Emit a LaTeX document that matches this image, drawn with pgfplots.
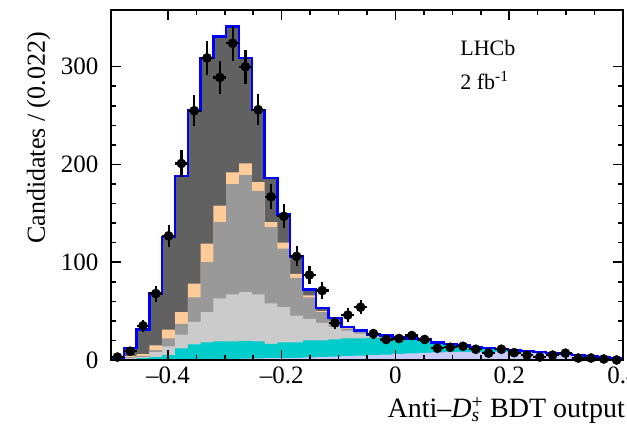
\documentclass[border=0pt]{standalone}
\usepackage{pgfplots}
\pgfplotsset{compat=1.18}
\usepackage{pgfplotstable}
\usepackage{fontspec}
\setmainfont{Liberation Serif}
\definecolor{cdark}{HTML}{616161}
\definecolor{cmed}{HTML}{999999}
\definecolor{clight}{HTML}{CBCBCB}
\definecolor{cpeach}{HTML}{FFCC99}
\definecolor{ccyan}{HTML}{00CCCC}
\definecolor{clav}{HTML}{C8CAF8}

\pgfplotstableread{
x L C G1 G2 P T
-0.5 0.3 0.5 0.7 0.9 1.2 2
-0.4775 0.3 1 2 3 4 12
-0.455 0.4 2 3 4 6 31
-0.4325 0.5 3 8 10 15 68
-0.41 0.6 5 14 22 31 126
-0.3875 0.7 12 26 37 49 188
-0.365 0.8 16 39 64 78 255
-0.3425 1 18 49 100 119 309
-0.32 1.1 19 63 141 158 331
-0.2975 1.2 19 67 180 192 341
-0.275 1.4 19.5 69.5 189 201 309
-0.2525 1.6 19 67 173 182 256
-0.23 1.8 16.5 58 136 141 186
-0.2075 2 18 54 114 120 149
-0.185 2.3 18 45.5 84 88 106
-0.1625 2.6 20 42 64 66 72
-0.14 3 20 38 49 50 53
-0.1175 3.4 21 34 39 40 43
-0.095 3.9 22 30 32 33 34
-0.0725 4.4 22 27 28.5 29 30
-0.05 5 23 25 25.3 25.5 26
-0.0275 5.6 23 24 24.3 24.5 25
-0.005 6.2 22 22.5 22.6 22.7 23
0.0175 6.8 21 21.4 21.5 21.6 22
0.04 7.3 20 20.3 20.4 20.5 21
0.0625 7.7 17 17.3 17.4 17.5 18
0.085 8 15.5 15.8 15.9 16 16.5
0.1075 8.2 14 14.3 14.4 14.5 15
0.13 8.3 12.5 12.8 12.9 13 13.5
0.1525 8.3 11 11.3 11.4 11.5 12
0.175 8.2 10 10.2 10.3 10.4 11
0.1975 8 9 9.1 9.2 9.3 10
0.22 7.6 8 8.1 8.2 8.3 9
0.2425 7 7.3 7.4 7.5 7.6 8
0.265 6.3 6.5 6.6 6.7 6.8 7
0.2875 5.5 5.7 5.8 5.9 6 6
0.31 4.6 4.7 4.8 4.9 4.9 5
0.3325 3.7 3.8 3.9 3.9 3.9 4
0.355 2.8 2.9 2.9 2.9 2.9 3
0.3775 1.8 1.9 1.9 1.9 1.9 2
0.4 1.8 1.9 1.9 1.9 1.9 2
}\stack

\pgfplotstableread{
x y ex ey
-0.48875 3 0.01125 1.7
-0.46625 9 0.01125 3
-0.44375 35 0.01125 5.9
-0.42125 68 0.01125 8.2
-0.39875 127 0.01125 11.3
-0.37625 201 0.01125 14.2
-0.35375 255 0.01125 16
-0.33125 309 0.01125 17.6
-0.30875 289 0.01125 17
-0.28625 324 0.01125 18
-0.26375 300 0.01125 17.3
-0.24125 256 0.01125 16
-0.21875 167 0.01125 12.9
-0.19625 147 0.01125 12.1
-0.17375 106 0.01125 10.3
-0.15125 87 0.01125 9.3
-0.12875 71 0.01125 8.4
-0.10625 38 0.01125 6.2
-0.08375 46 0.01125 6.8
-0.06125 54 0.01125 7.3
-0.03875 27 0.01125 5.2
-0.01625 21 0.01125 4.6
0.00625 22 0.01125 4.7
0.02875 25 0.01125 5
0.05125 21 0.01125 4.6
0.07375 12 0.01125 3.5
0.09625 13 0.01125 3.6
0.11875 14 0.01125 3.7
0.14125 11 0.01125 3.3
0.16375 7 0.01125 2.6
0.18625 11 0.01125 3.3
0.20875 7.5 0.01125 2.7
0.23125 5 0.01125 2.2
0.25375 3 0.01125 1.7
0.27625 5 0.01125 2.2
0.29875 7 0.01125 2.6
0.32125 2 0.01125 1.4
0.34375 2 0.01125 1.4
0.36625 1 0.01125 1
0.38875 0 0.01125 0
}\data

\begin{document}
\begin{tikzpicture}
\begin{axis}[
  width=512pt, height=350pt, scale only axis,
  xmin=-0.5, xmax=0.4, ymin=0, ymax=358,
  clip=false,
  axis on top,
  axis line style={line width=1.6pt},
  every tick/.style={line width=1.6pt, black},
  major tick length=10pt, minor tick length=5pt,
  tick align=inside,
  xtick={-0.4,-0.2,0,0.2,0.4},
  xticklabels={\textendash0.4,\textendash0.2,0,0.2,0.4},
  minor x tick num=3,
  ytick={0,100,200,300}, minor y tick num=4,
  /pgf/number format/assume math mode=true,
  ticklabel style={font=\fontsize{25}{30}\selectfont},
  xticklabel style={yshift=-3pt},
  yticklabel style={xshift=-9pt},
  label style={font=\fontsize{26}{31}\selectfont},
  xlabel={Anti\textendash\textit{D}\rlap{\textsubscript{\textit{s}}}\textsuperscript{+} BDT output},
  xlabel style={at={(axis description cs:1,0)}, anchor=north east, inner sep=0pt, yshift=-37pt, xshift=2pt, font=\fontsize{28}{33}\selectfont},
  ylabel={Candidates / (0.022)},
  ylabel style={at={(axis description cs:-0.118,0.937)}, anchor=south east, inner sep=0pt},
]
\addplot[const plot, fill=cdark, draw=none] table[x=x, y=T] \stack \closedcycle;
\addplot[const plot, fill=cpeach, draw=none] table[x=x, y=P] \stack \closedcycle;
\addplot[const plot, fill=cmed, draw=none] table[x=x, y=G2] \stack \closedcycle;
\addplot[const plot, fill=clight, draw=none] table[x=x, y=G1] \stack \closedcycle;
\addplot[const plot, fill=ccyan, draw=none] table[x=x, y=C] \stack \closedcycle;
\addplot[const plot, fill=clav, draw=none] table[x=x, y=L] \stack \closedcycle;
\addplot[const plot, draw=blue, line width=2.4pt] table[x=x, y=T] \stack;
\addplot[only marks, mark=*, mark size=4.6pt, black,
  error bars/.cd, x dir=both, x explicit, y dir=both, y explicit,
  error mark=none, error bar style={line width=2.2pt, black}]
  table[x=x, y=y, x error=ex, y error=ey] \data;
\node[anchor=base west, inner sep=0pt, font=\fontsize{22}{26}\selectfont] at (rel axis cs:0.682,0.869) {LHCb};
\node[anchor=base west, inner sep=0pt, font=\fontsize{22}{26}\selectfont] at (rel axis cs:0.682,0.774) {2 fb\textsuperscript{-1}};
\end{axis}
\pgfresetboundingbox
\path[use as bounding box] ([shift={(-111pt,-72pt)}]current axis.south west) rectangle ([shift={(4pt,10pt)}]current axis.north east);
\end{tikzpicture}
\end{document}
